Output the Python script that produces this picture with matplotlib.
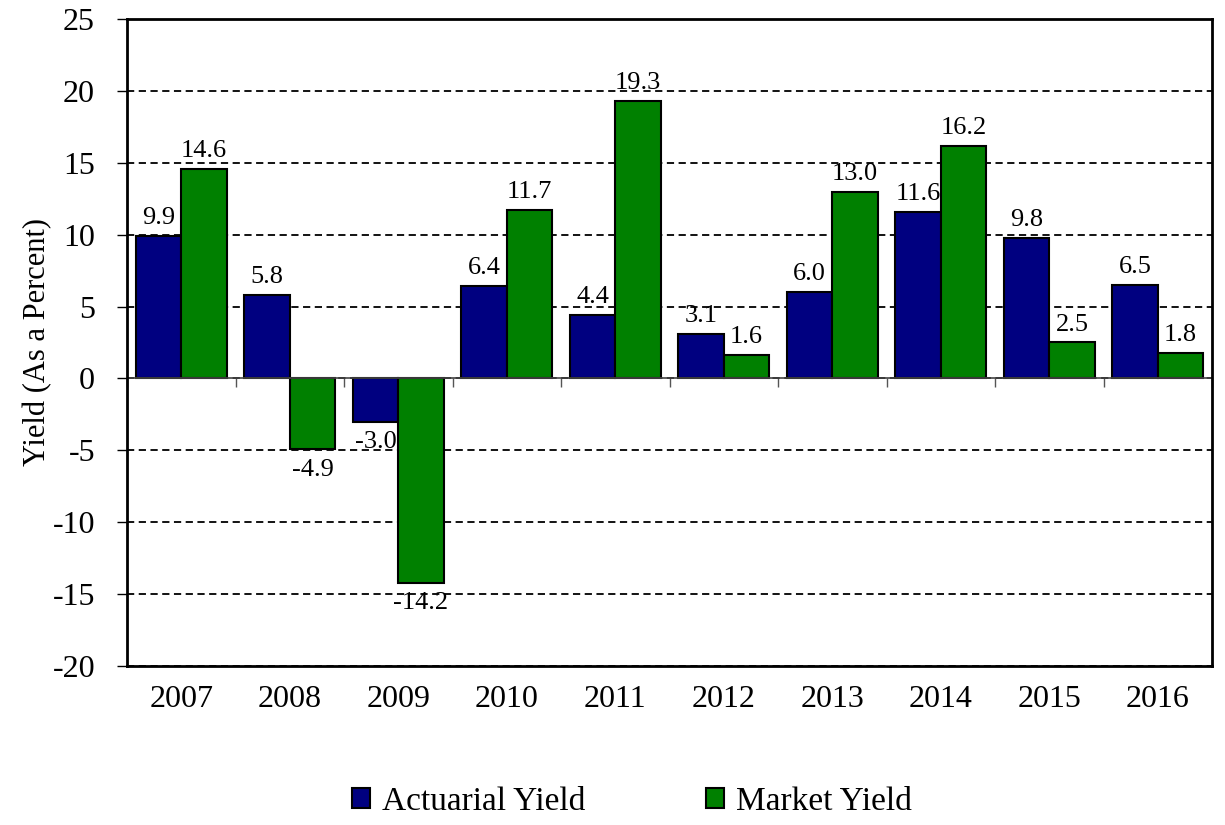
import matplotlib.pyplot as plt
import numpy as np
from matplotlib.patches import Patch

years = ["2007", "2008", "2009", "2010", "2011", "2012", "2013", "2014", "2015", "2016"]
actuarial = [9.9, 5.8, -3.0, 6.4, 4.4, 3.1, 6.0, 11.6, 9.8, 6.5]
market = [14.6, -4.9, -14.2, 11.7, 19.3, 1.6, 13.0, 16.2, 2.5, 1.8]

plt.rcParams['font.family'] = ['Liberation Serif', 'DejaVu Serif']
plt.rcParams['axes.unicode_minus'] = False

fig = plt.figure(figsize=(12.25, 8.25), dpi=100)
ax = fig.add_axes([127/1225, 1 - 666/825, (1212 - 127)/1225, (666 - 19)/825])

x = np.arange(len(years))
w = 0.42
blue = "#000080"
green = "#008000"
ax.bar(x - w/2, actuarial, w, color=blue, edgecolor="black", linewidth=1.5, zorder=3)
ax.bar(x + w/2, market, w, color=green, edgecolor="black", linewidth=1.5, zorder=3)

# value labels above/below bars
for xs, vals in ((x - w/2, actuarial), (x + w/2, market)):
    for xi, v in zip(xs, vals):
        ax.annotate("%.1f" % v, (xi, v), xytext=(0, 5 if v >= 0 else -7), textcoords="offset points",
                    ha="center", va="bottom" if v >= 0 else "top", fontsize=19, zorder=6)

ax.set_xlim(-0.5, len(years) - 0.5)
ax.set_ylim(-20, 25)
ax.set_yticks(range(-20, 30, 5))
ax.yaxis.grid(True, linestyle=(0, (4, 2.5)), color="black", linewidth=1.3, zorder=0)
ax.axhline(0, color="#444444", linewidth=1.2, zorder=4)

ax.set_xticks(x)
ax.set_xticklabels(years)
ax.tick_params(axis="x", length=0, pad=14, labelsize=23)
ax.tick_params(axis="y", length=7, width=1, direction="out", labelsize=23, pad=16)

# boundary ticks on the zero line
sec = ax.secondary_xaxis(20/45)
sec.set_xticks(np.arange(len(years) + 1) - 0.5)
sec.tick_params(axis="x", direction="out", length=6.5, width=1, color="#555555",
                labelbottom=False, labeltop=False, bottom=True, top=False)
sec.spines['bottom'].set_visible(False)
sec.spines['top'].set_visible(False)

for s in ax.spines.values():
    s.set_linewidth(2)
    s.set_zorder(5)

ax.set_ylabel("Yield (As a Percent)", fontsize=22, labelpad=0)

handles = [Patch(facecolor=blue, edgecolor="black", linewidth=1.5, label="Actuarial Yield"),
           Patch(facecolor=green, edgecolor="black", linewidth=1.5, label="Market Yield")]
fig.legend(handles=handles, loc="center", bbox_to_anchor=(0.516, 0.028), ncol=2, frameon=False,
           fontsize=24, handlelength=0.55, handleheight=0.55, handletextpad=0.36, columnspacing=3.6)

fig.savefig("out.png", dpi=100)
